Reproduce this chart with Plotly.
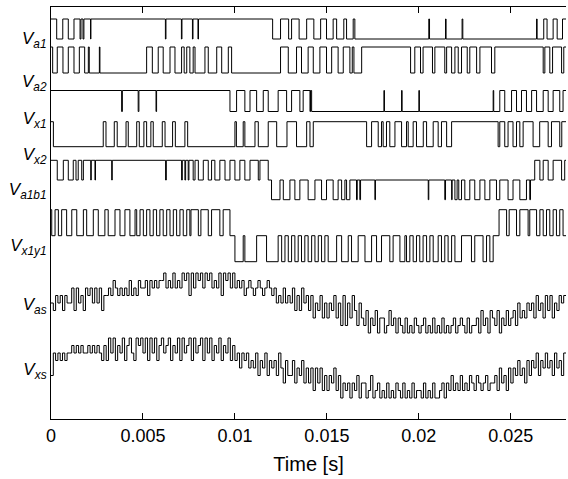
import numpy as np
import plotly.graph_objects as go

T_END_MS = 28.0

# two-level leg voltages: start level + instants [ms] where the level toggles
va1_init = 1
va1_toggles = [0.31, 0.64, 0.94, 1.25, 1.58, 1.63, 1.74, 1.79, 2.15, 2.17, 6.22, 6.25,
               7.09, 7.12, 7.69, 7.72, 7.99, 8.02, 12.05, 12.48, 12.92, 13.08, 13.49,
               13.90, 14.29, 14.66, 14.98, 15.34, 15.53, 15.92, 16.07, 16.43, 16.52,
               20.54, 20.58, 21.45, 21.48, 22.35, 22.39, 26.40, 26.43, 26.79, 26.97,
               27.30, 27.52, 27.81]

va2_init = 1
va2_toggles = [0.09, 0.34, 0.65, 0.94, 1.25, 1.54, 1.83, 2.03, 2.08, 2.63, 2.66,
               5.20, 5.51, 5.83, 6.10, 6.47, 6.74, 7.10, 7.24, 7.38, 7.55, 7.73, 7.83,
               8.37, 8.55, 9.01, 9.28, 9.64, 9.82, 12.48, 12.90, 13.35, 13.62, 13.98,
               14.26, 14.62, 14.98, 15.26, 15.61, 15.89, 16.25, 16.38, 16.47, 16.89,
               19.55, 19.78, 20.09, 20.23, 20.74, 20.87, 21.41, 21.51, 21.78, 21.96,
               22.14, 22.32, 22.63, 22.77, 23.14, 23.32, 23.95, 24.13, 26.76, 26.85,
               27.12, 27.27, 27.76, 27.88]

vx1_init = 1
vx1_toggles = [3.84, 3.88, 4.74, 4.78, 5.71, 5.74, 9.73, 10.09, 10.54, 10.82, 11.18,
               11.54, 11.81, 12.35, 12.81, 13.08, 13.53, 13.71, 14.08, 14.11, 14.17,
               18.10, 18.13, 19.06, 19.09, 20.00, 20.03, 24.04, 24.07, 24.40, 24.67,
               25.04, 25.31, 25.58, 25.85, 26.13, 26.40, 26.76, 27.03, 27.30, 27.66,
               27.84]

vx2_init = 1
vx2_toggles = [0.13, 2.84, 2.99, 3.44, 3.60, 4.08, 4.20, 4.66, 4.80, 5.05, 5.20, 5.43,
               5.56, 6.05, 6.20, 6.61, 6.76, 7.28, 7.43, 10.00, 10.08, 10.45, 10.54,
               11.09, 11.27, 11.81, 12.27, 12.83, 13.35, 13.90, 14.08, 14.26, 17.16,
               17.43, 17.79, 17.97, 18.06, 18.24, 18.42, 18.70, 19.06, 19.33, 19.42,
               19.69, 19.87, 20.24, 20.42, 20.78, 21.05, 21.23, 21.51, 21.78, 24.31,
               24.40, 24.67, 24.85, 25.12, 25.31, 25.49, 25.67, 26.21, 26.57, 27.03,
               27.21, 27.66, 27.77]

# three-level line voltages: step instants [ms] and level after each step
va1b1_t = [0.0, 0.34, 0.67, 0.94, 1.21, 1.36, 1.48, 1.67, 1.76, 2.16, 2.19, 2.39, 2.42,
           3.30, 3.33, 6.23, 6.27, 7.10, 7.14, 7.28, 7.32, 7.46, 7.50, 7.73, 7.83, 8.01,
           8.28, 8.55, 8.73, 8.91, 9.18, 9.46, 9.73, 10.00, 10.27, 10.54, 10.82, 11.27,
           11.36, 11.81, 11.99, 12.45, 12.63, 12.99, 13.26, 13.53, 13.98, 14.35, 14.71,
           14.98, 15.34, 15.61, 15.80, 15.98, 16.07, 16.25, 16.61, 16.65, 16.79, 16.83,
           17.61, 17.64, 20.51, 20.54, 21.41, 21.45, 21.78, 21.81, 21.96, 22.08, 22.17,
           22.32, 22.50, 22.77, 23.04, 23.32, 23.59, 23.86, 24.22, 24.40, 24.85, 25.12,
           25.49, 25.85, 26.03, 26.07, 26.30, 26.58, 26.76, 27.03, 27.30, 27.76, 27.93]
va1b1_lv = [1, 0, 1, 0, 1, 0, 1, 0, 1, 0, 1, 0, 1,
            0, 1, 0, 1, 0, 1, 0, 1, 0, 1, 0, 1, 0,
            1, 0, 1, 0, 1, 0, 1, 0, 1, 0, 1, 0,
            1, 0, -1, 0, -1, 0, -1, 0, -1, 0, -1,
            0, -1, 0, -1, 0, -1, 0, -1, 0, -1, 0,
            -1, 0, -1, 0, -1, 0, -1, 0, -1, 0, -1,
            0, -1, 0, -1, 0, -1, 0, -1, 0, -1, 0,
            -1, 0, -1, 0, 1, 0, 1, 0, 1, 0, 1]

vx1y1_t = [0.0, 0.04, 0.22, 0.40, 0.58, 0.85, 1.13, 1.40, 1.76, 1.94, 2.30, 2.57, 2.93,
           3.11, 3.48, 3.75, 4.02, 4.29, 4.57, 4.66, 4.84, 5.02, 5.20, 5.38, 5.56, 5.74,
           5.92, 6.10, 6.29, 6.47, 6.65, 6.83, 7.01, 7.19, 7.38, 7.55, 7.61, 8.01, 8.15,
           8.55, 8.73, 9.18, 9.36, 9.73,
           10.00, 10.45, 10.54, 11.18, 11.72, 12.35, 12.54, 12.72, 12.90, 13.08, 13.26,
           13.44, 13.62, 13.80, 13.98, 14.17, 14.35, 14.53, 14.71, 14.89, 15.07, 15.53,
           15.80, 16.16, 16.34, 16.70, 17.07, 17.43, 17.70, 17.97, 18.42, 18.60, 18.97,
           19.24, 19.33, 19.51, 19.69, 19.87, 20.05, 20.23, 20.42, 20.60, 20.78, 21.05,
           21.23, 21.41, 21.59, 21.78, 21.96, 22.32, 22.86, 23.04, 23.49, 23.68, 23.86,
           24.04,
           24.36, 24.77, 24.91, 25.31, 25.49, 25.94, 26.03, 26.40, 26.58, 26.76, 26.94,
           27.12, 27.30, 27.48, 27.66, 27.84]
vx1y1_lv = ([1, 0] * 22)[:44] + ([-1, 0] * 28)[:56] + [1, 0] * 8

# multilevel phase voltages, one level per 0.125 ms sample (0 = lowest level)
SAMPLE_MS = 0.125
vas_levels = [int(c) for c in (
    "43545354" "46364536" "56464635" "56576565" "65756576" "67576767" "78676867"
    "68785868" "78687867" "68587868" "67675676" "56765676" "56454645" "46353645"
    "35243524" "24352415" "14253142" "13021302" "20131202" "10201021" "01201020"
    "10201012" "01210201" "12031203" "21302131" "23142324" "34253425" "35243545")]
vxs_levels = [int(c) for c in (
    "36565656" "67676766" "76767657" "58685768" "57865878" "68586857" "86785768"
    "58678586" "78586857" "68576857" "56465645" "46354635" "45364253" "35243524"
    "24142413" "13241302" "12021302" "20130120" "10201021" "02010201" "10201020"
    "01202131" "21312132" "13212312" "23142314" "24353425" "35463546" "45364536")]

labels = ['<i>V</i><sub><i>a1</i></sub>', '<i>V</i><sub><i>a2</i></sub>',
          '<i>V</i><sub><i>x1</i></sub>', '<i>V</i><sub><i>x2</i></sub>',
          '<i>V</i><sub><i>a1b1</i></sub>', '<i>V</i><sub><i>x1y1</i></sub>',
          '<i>V</i><sub><i>as</i></sub>', '<i>V</i><sub><i>xs</i></sub>']

# screen placement of each row: (baseline, gain) in the pixel-like y axis
ROW = {
    'va1': (39, 20), 'va2': (73, 26), 'vx1': (111.5, 21), 'vx2': (146.7, 25),
    'va1b1': (180, 19.7), 'vx1y1': (235.7, 26), 'vas': (333, 7.5), 'vxs': (398, 7.5),
}
LABEL_Y = [38, 81, 118, 154, 189, 245, 304, 369]


def toggled(init, toggles):
    t = [0.0] + list(toggles) + [T_END_MS]
    lv = [init]
    for _ in toggles:
        lv.append(1 - lv[-1])
    lv.append(lv[-1])
    return t, lv


def stepped(t, lv):
    return list(t) + [T_END_MS], list(lv) + [lv[-1]]


def sampled(levels):
    t = list(np.arange(len(levels)) * SAMPLE_MS) + [T_END_MS]
    return t, list(levels) + [levels[-1]]


series = {
    'va1': toggled(va1_init, va1_toggles),
    'va2': toggled(va2_init, va2_toggles),
    'vx1': toggled(vx1_init, vx1_toggles),
    'vx2': toggled(vx2_init, vx2_toggles),
    'va1b1': stepped(va1b1_t, va1b1_lv),
    'vx1y1': stepped(vx1y1_t, vx1y1_lv),
    'vas': sampled(vas_levels),
    'vxs': sampled(vxs_levels),
}

fig = go.Figure()
for key, (t, lv) in series.items():
    base, gain = ROW[key]
    fig.add_trace(go.Scatter(
        x=np.array(t) / 1000.0,
        y=base - gain * np.array(lv, dtype=float),
        mode='lines',
        line=dict(color='black', width=1, shape='hv'),
        showlegend=False,
        hoverinfo='skip',
    ))

fig.update_layout(
    width=568, height=479,
    margin=dict(l=51, r=2, t=7, b=60),
    paper_bgcolor='white', plot_bgcolor='white',
    font=dict(family='Liberation Sans, Arial, sans-serif', color='black'),
    xaxis=dict(
        range=[0, 0.028], automargin=False,
        tickvals=[0, 0.005, 0.01, 0.015, 0.02, 0.025],
        ticktext=['0', '0.005', '0.01', '0.015', '0.02', '0.025'],
        ticks='inside', ticklen=6, tickcolor='black',
        showline=True, linecolor='black', linewidth=1, mirror='ticks',
        showgrid=False, zeroline=False,
        tickfont=dict(size=18),
        title=dict(text='Time [s]', font=dict(size=20), standoff=12),
    ),
    yaxis=dict(
        range=[419, 7], automargin=False,
        tickvals=LABEL_Y, ticktext=labels,
        ticks='', showline=True, linecolor='black', linewidth=1,
        showgrid=False, zeroline=False,
        tickfont=dict(size=17),
    ),
)

# drop the default page margin so the figure fills the window exactly
fig.write_html("out.html", config={'displayModeBar': False},
               post_script="document.body.style.margin='0';")
